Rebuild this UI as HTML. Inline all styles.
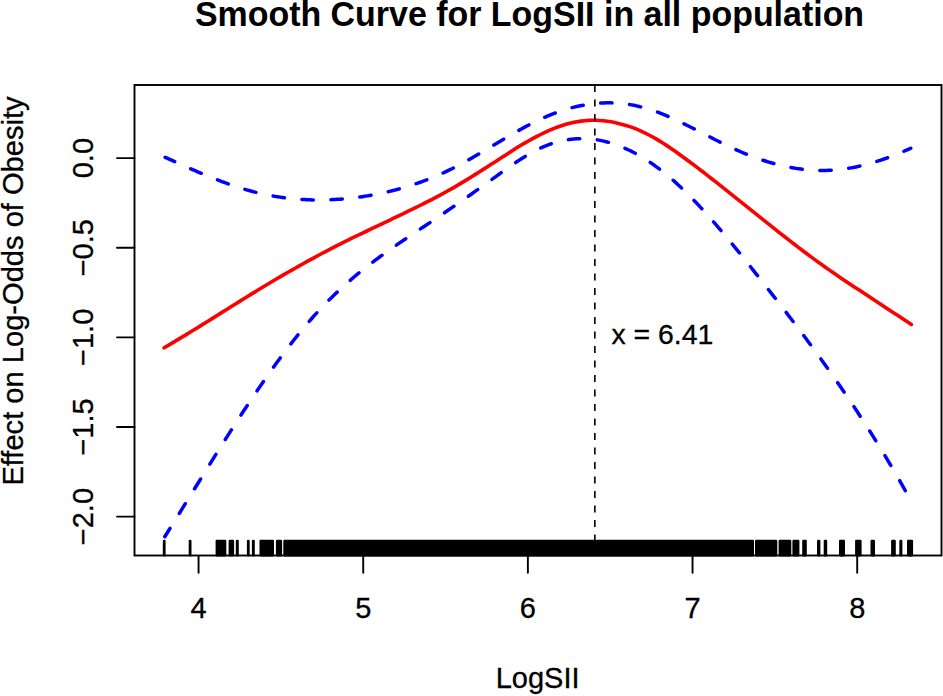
<!DOCTYPE html><html><head><meta charset="utf-8"><style>html,body{margin:0;padding:0;background:#fff;width:943px;height:696px;overflow:hidden}svg{display:block}text{font-family:"Liberation Sans",sans-serif;fill:#000}text.r{stroke:#000;stroke-width:0.3}</style></head><body><svg width="943" height="696" viewBox="0 0 943 696"><rect width="943" height="696" fill="#fff"/><text x="194.9" y="25.6" font-size="34.9" font-weight="bold" textLength="669.2" lengthAdjust="spacingAndGlyphs">Smooth Curve for LogSII in all population</text><path d="M164.10,347.74 L167.86,345.57 L171.61,343.37 L175.37,341.15 L179.12,338.91 L182.88,336.65 L186.63,334.37 L190.39,332.08 L194.14,329.77 L197.90,327.46 L201.65,325.13 L205.41,322.79 L209.16,320.45 L212.92,318.10 L216.67,315.75 L220.43,313.39 L224.18,311.04 L227.94,308.68 L231.69,306.33 L235.45,303.98 L239.21,301.64 L242.96,299.30 L246.72,296.97 L250.47,294.65 L254.23,292.35 L257.98,290.06 L261.74,287.78 L265.49,285.51 L269.25,283.27 L273.00,281.03 L276.76,278.81 L280.51,276.61 L284.27,274.43 L288.02,272.26 L291.78,270.10 L295.53,267.97 L299.29,265.85 L303.05,263.75 L306.80,261.66 L310.56,259.60 L314.31,257.56 L318.07,255.53 L321.82,253.52 L325.58,251.54 L329.33,249.57 L333.09,247.63 L336.84,245.70 L340.60,243.80 L344.35,241.92 L348.11,240.06 L351.86,238.21 L355.62,236.39 L359.37,234.58 L363.13,232.78 L366.88,231.00 L370.64,229.21 L374.40,227.43 L378.15,225.65 L381.91,223.87 L385.66,222.09 L389.42,220.29 L393.17,218.49 L396.93,216.67 L400.68,214.84 L404.44,213.02 L408.19,211.22 L411.95,209.41 L415.70,207.59 L419.46,205.75 L423.21,203.87 L426.97,201.98 L430.72,200.06 L434.48,198.11 L438.24,196.13 L441.99,194.10 L445.75,192.04 L449.50,189.94 L453.26,187.81 L457.01,185.63 L460.77,183.41 L464.52,181.15 L468.28,178.85 L472.03,176.51 L475.79,174.14 L479.54,171.75 L483.30,169.36 L487.05,166.97 L490.81,164.58 L494.56,162.18 L498.32,159.78 L502.07,157.36 L505.83,154.91 L509.59,152.43 L513.34,149.99 L517.10,147.60 L520.85,145.31 L524.61,143.10 L528.36,140.97 L532.12,138.91 L535.87,136.92 L539.63,135.01 L543.38,133.17 L547.14,131.40 L550.89,129.72 L554.65,128.16 L558.40,126.73 L562.16,125.44 L565.91,124.28 L569.67,123.26 L573.43,122.38 L577.18,121.66 L580.94,121.10 L584.69,120.69 L588.45,120.42 L592.20,120.28 L595.96,120.29 L599.71,120.45 L603.47,120.75 L607.22,121.19 L610.98,121.78 L614.73,122.53 L618.49,123.42 L622.24,124.43 L626.00,125.47 L629.75,126.61 L633.51,127.92 L637.26,129.44 L641.02,131.09 L644.78,132.86 L648.53,134.76 L652.29,136.77 L656.04,138.90 L659.80,141.14 L663.55,143.46 L667.31,145.88 L671.06,148.40 L674.82,151.02 L678.57,153.71 L682.33,156.45 L686.08,159.22 L689.84,162.00 L693.59,164.79 L697.35,167.63 L701.10,170.50 L704.86,173.39 L708.62,176.31 L712.37,179.25 L716.13,182.20 L719.88,185.17 L723.64,188.14 L727.39,191.13 L731.15,194.12 L734.90,197.13 L738.66,200.13 L742.41,203.14 L746.17,206.15 L749.92,209.17 L753.68,212.18 L757.43,215.18 L761.19,218.19 L764.94,221.18 L768.70,224.17 L772.45,227.15 L776.21,230.12 L779.97,233.08 L783.72,236.02 L787.48,238.95 L791.23,241.86 L794.99,244.75 L798.74,247.62 L802.50,250.46 L806.25,253.29 L810.01,256.08 L813.76,258.86 L817.52,261.60 L821.27,264.31 L825.03,266.99 L828.78,269.64 L832.54,272.26 L836.29,274.84 L840.05,277.40 L843.81,279.94 L847.56,282.45 L851.32,284.94 L855.07,287.41 L858.83,289.86 L862.58,292.31 L866.34,294.77 L870.09,297.25 L873.85,299.73 L877.60,302.22 L881.36,304.71 L885.11,307.20 L888.87,309.68 L892.62,312.15 L896.38,314.62 L900.13,317.10 L903.89,319.58 L907.64,322.08 L911.40,324.59" fill="none" stroke="#f00" stroke-width="3.6" stroke-linecap="round" stroke-linejoin="round"/><path d="M165.20,157.29 L167.69,158.43 L170.19,159.57 L172.68,160.70 L175.17,161.84 L177.67,162.97 L180.16,164.09 L182.66,165.21 L185.15,166.32 L187.64,167.43 L190.14,168.53 L192.63,169.62 L195.12,170.70 L197.62,171.78 L200.11,172.84 L202.60,173.89 L205.10,174.93 L207.59,175.96 L210.09,176.97 L212.58,177.97 L215.07,178.96 L217.57,179.93 L220.06,180.88 L222.55,181.81 L225.05,182.73 L227.54,183.63 L230.03,184.52 L232.53,185.38 L235.02,186.22 L237.52,187.04 L240.01,187.83 L242.50,188.61 L245.00,189.36 L247.49,190.09 L249.98,190.79 L252.48,191.47 L254.97,192.12 L257.46,192.74 L259.96,193.34 L262.45,193.91 L264.95,194.45 L267.44,194.96 L269.93,195.45 L272.43,195.91 L274.92,196.35 L277.41,196.76 L279.91,197.14 L282.40,197.50 L284.89,197.84 L287.39,198.15 L289.88,198.43 L292.38,198.69 L294.87,198.92 L297.36,199.13 L299.86,199.32 L302.35,199.48 L304.84,199.62 L307.34,199.73 L309.83,199.82 L312.33,199.89 L314.82,199.93 L317.31,199.95 L319.81,199.95 L322.30,199.93 L324.79,199.88 L327.29,199.82 L329.78,199.73 L332.27,199.61 L334.77,199.48 L337.26,199.33 L339.76,199.15 L342.25,198.96 L344.74,198.74 L347.24,198.50 L349.73,198.24 L352.22,197.97 L354.72,197.67 L357.21,197.35 L359.70,197.01 L362.20,196.66 L364.69,196.28 L367.19,195.88 L369.68,195.47 L372.17,195.03 L374.67,194.57 L377.16,194.10 L379.65,193.60 L382.15,193.08 L384.64,192.53 L387.13,191.97 L389.63,191.38 L392.12,190.77 L394.62,190.14 L397.11,189.49 L399.60,188.81 L402.10,188.11 L404.59,187.38 L407.08,186.63 L409.58,185.86 L412.07,185.06 L414.56,184.24 L417.06,183.39 L419.55,182.51 L422.05,181.61 L424.54,180.69 L427.03,179.74 L429.53,178.76 L432.02,177.75 L434.51,176.72 L437.01,175.66 L439.50,174.58 L441.99,173.46 L444.49,172.32 L446.98,171.15 L449.48,169.95 L451.97,168.73 L454.46,167.47 L456.96,166.18 L459.45,164.87 L461.94,163.53 L464.44,162.17 L466.93,160.79 L469.42,159.39 L471.92,157.97 L474.41,156.53 L476.91,155.09 L479.40,153.62 L481.89,152.15 L484.39,150.67 L486.88,149.19 L489.37,147.70 L491.87,146.20 L494.36,144.71 L496.85,143.22 L499.35,141.72 L501.84,140.24 L504.34,138.76 L506.83,137.29 L509.32,135.83 L511.82,134.38 L514.31,132.94 L516.80,131.53 L519.30,130.12 L521.79,128.74 L524.28,127.38 L526.78,126.05 L529.27,124.73 L531.77,123.45 L534.26,122.19 L536.75,120.97 L539.25,119.78 L541.74,118.62 L544.23,117.50 L546.73,116.41 L549.22,115.37 L551.72,114.36 L554.21,113.40 L556.70,112.47 L559.20,111.59 L561.69,110.74 L564.18,109.94 L566.68,109.18 L569.17,108.45 L571.66,107.78 L574.16,107.14 L576.65,106.54 L579.15,105.99 L581.64,105.48 L584.13,105.02 L586.63,104.60 L589.12,104.22 L591.61,103.89 L594.11,103.60 L596.60,103.36 L599.09,103.16 L601.59,103.01 L604.08,102.90 L606.58,102.84 L609.07,102.83 L611.56,102.87 L614.06,102.95 L616.55,103.08 L619.04,103.25 L621.54,103.48 L624.03,103.75 L626.52,104.07 L629.02,104.45 L631.51,104.87 L634.01,105.34 L636.50,105.86 L638.99,106.43 L641.49,107.05 L643.98,107.72 L646.47,108.45 L648.97,109.21 L651.46,110.03 L653.95,110.88 L656.45,111.78 L658.94,112.71 L661.44,113.68 L663.93,114.69 L666.42,115.73 L668.92,116.80 L671.41,117.89 L673.90,119.02 L676.40,120.17 L678.89,121.34 L681.38,122.53 L683.88,123.74 L686.37,124.96 L688.87,126.20 L691.36,127.46 L693.85,128.72 L696.35,129.99 L698.84,131.27 L701.33,132.55 L703.83,133.84 L706.32,135.12 L708.81,136.40 L711.31,137.68 L713.80,138.96 L716.30,140.22 L718.79,141.48 L721.28,142.72 L723.78,143.95 L726.27,145.17 L728.76,146.36 L731.26,147.54 L733.75,148.70 L736.24,149.83 L738.74,150.93 L741.23,152.01 L743.73,153.07 L746.22,154.09 L748.71,155.09 L751.21,156.06 L753.70,157.01 L756.19,157.92 L758.69,158.81 L761.18,159.66 L763.67,160.49 L766.17,161.29 L768.66,162.06 L771.16,162.79 L773.65,163.50 L776.14,164.17 L778.64,164.81 L781.13,165.42 L783.62,166.00 L786.12,166.54 L788.61,167.05 L791.11,167.53 L793.60,167.97 L796.09,168.38 L798.59,168.75 L801.08,169.09 L803.57,169.39 L806.07,169.66 L808.56,169.89 L811.05,170.08 L813.55,170.23 L816.04,170.35 L818.54,170.43 L821.03,170.47 L823.52,170.47 L826.02,170.43 L828.51,170.35 L831.00,170.23 L833.50,170.08 L835.99,169.88 L838.48,169.64 L840.98,169.36 L843.47,169.05 L845.97,168.69 L848.46,168.30 L850.95,167.88 L853.45,167.41 L855.94,166.91 L858.43,166.38 L860.93,165.81 L863.42,165.21 L865.91,164.58 L868.41,163.92 L870.90,163.22 L873.40,162.49 L875.89,161.73 L878.38,160.94 L880.88,160.12 L883.37,159.28 L885.86,158.40 L888.36,157.50 L890.85,156.57 L893.34,155.61 L895.84,154.63 L898.33,153.62 L900.83,152.59 L903.32,151.54 L905.81,150.46 L908.31,149.36 L910.80,148.23" fill="none" stroke="#00f" stroke-width="3.5" stroke-linecap="round" stroke-linejoin="round" stroke-dasharray="11.40 17.60" stroke-dashoffset="0.98"/><path d="M164.80,536.74 L167.29,532.76 L169.79,528.77 L172.28,524.76 L174.78,520.75 L177.27,516.74 L179.76,512.71 L182.26,508.69 L184.75,504.66 L187.25,500.62 L189.74,496.59 L192.23,492.55 L194.73,488.52 L197.22,484.49 L199.72,480.46 L202.21,476.43 L204.70,472.41 L207.20,468.39 L209.69,464.38 L212.19,460.38 L214.68,456.38 L217.17,452.40 L219.67,448.42 L222.16,444.46 L224.66,440.51 L227.15,436.58 L229.64,432.66 L232.14,428.75 L234.63,424.86 L237.13,420.99 L239.62,417.14 L242.11,413.31 L244.61,409.50 L247.10,405.71 L249.60,401.95 L252.09,398.20 L254.58,394.49 L257.08,390.80 L259.57,387.13 L262.07,383.50 L264.56,379.89 L267.05,376.31 L269.55,372.77 L272.04,369.26 L274.54,365.78 L277.03,362.33 L279.52,358.92 L282.02,355.55 L284.51,352.21 L287.01,348.91 L289.50,345.65 L291.99,342.43 L294.49,339.25 L296.98,336.12 L299.47,333.03 L301.97,329.98 L304.46,326.98 L306.96,324.02 L309.45,321.11 L311.94,318.25 L314.44,315.44 L316.93,312.68 L319.43,309.97 L321.92,307.32 L324.41,304.71 L326.91,302.15 L329.40,299.63 L331.90,297.17 L334.39,294.74 L336.88,292.36 L339.38,290.02 L341.87,287.72 L344.37,285.46 L346.86,283.24 L349.35,281.06 L351.85,278.91 L354.34,276.79 L356.84,274.71 L359.33,272.66 L361.82,270.64 L364.32,268.65 L366.81,266.69 L369.31,264.75 L371.80,262.84 L374.29,260.96 L376.79,259.10 L379.28,257.26 L381.78,255.44 L384.27,253.63 L386.76,251.85 L389.26,250.09 L391.75,248.33 L394.25,246.60 L396.74,244.87 L399.23,243.16 L401.73,241.46 L404.22,239.77 L406.72,238.09 L409.21,236.41 L411.70,234.74 L414.20,233.07 L416.69,231.41 L419.19,229.74 L421.68,228.08 L424.17,226.42 L426.67,224.75 L429.16,223.09 L431.66,221.41 L434.15,219.73 L436.64,218.05 L439.14,216.36 L441.63,214.67 L444.13,212.97 L446.62,211.27 L449.11,209.56 L451.61,207.85 L454.10,206.13 L456.60,204.41 L459.09,202.68 L461.58,200.94 L464.08,199.20 L466.57,197.46 L469.07,195.70 L471.56,193.95 L474.05,192.19 L476.55,190.42 L479.04,188.65 L481.54,186.87 L484.03,185.09 L486.52,183.30 L489.02,181.50 L491.51,179.70 L494.01,177.89 L496.50,176.09 L498.99,174.28 L501.49,172.48 L503.98,170.69 L506.48,168.91 L508.97,167.15 L511.46,165.42 L513.96,163.70 L516.45,162.02 L518.95,160.37 L521.44,158.76 L523.93,157.19 L526.43,155.67 L528.92,154.19 L531.42,152.77 L533.91,151.40 L536.40,150.10 L538.90,148.86 L541.39,147.69 L543.88,146.59 L546.38,145.57 L548.87,144.62 L551.37,143.74 L553.86,142.93 L556.35,142.19 L558.85,141.52 L561.34,140.92 L563.84,140.39 L566.33,139.94 L568.82,139.55 L571.32,139.23 L573.81,138.97 L576.31,138.79 L578.80,138.67 L581.29,138.62 L583.79,138.64 L586.28,138.72 L588.78,138.87 L591.27,139.09 L593.76,139.37 L596.26,139.72 L598.75,140.13 L601.25,140.60 L603.74,141.14 L606.23,141.74 L608.73,142.41 L611.22,143.14 L613.72,143.93 L616.21,144.78 L618.70,145.70 L621.20,146.67 L623.69,147.71 L626.19,148.81 L628.68,149.97 L631.17,151.19 L633.67,152.46 L636.16,153.80 L638.66,155.19 L641.15,156.65 L643.64,158.16 L646.14,159.73 L648.63,161.36 L651.13,163.04 L653.62,164.78 L656.11,166.57 L658.61,168.43 L661.10,170.33 L663.60,172.30 L666.09,174.31 L668.58,176.39 L671.08,178.51 L673.57,180.69 L676.07,182.92 L678.56,185.20 L681.05,187.54 L683.55,189.92 L686.04,192.35 L688.54,194.82 L691.03,197.34 L693.52,199.90 L696.02,202.50 L698.51,205.14 L701.01,207.82 L703.50,210.54 L705.99,213.29 L708.49,216.08 L710.98,218.90 L713.48,221.75 L715.97,224.63 L718.46,227.54 L720.96,230.47 L723.45,233.43 L725.95,236.42 L728.44,239.42 L730.93,242.45 L733.43,245.50 L735.92,248.57 L738.42,251.65 L740.91,254.74 L743.40,257.86 L745.90,260.98 L748.39,264.11 L750.89,267.26 L753.38,270.41 L755.87,273.57 L758.37,276.73 L760.86,279.90 L763.36,283.07 L765.85,286.25 L768.34,289.44 L770.84,292.63 L773.33,295.82 L775.83,299.03 L778.32,302.24 L780.81,305.47 L783.31,308.70 L785.80,311.94 L788.29,315.19 L790.79,318.46 L793.28,321.73 L795.78,325.02 L798.27,328.32 L800.76,331.64 L803.26,334.97 L805.75,338.31 L808.25,341.67 L810.74,345.05 L813.23,348.44 L815.73,351.85 L818.22,355.28 L820.72,358.72 L823.21,362.18 L825.70,365.67 L828.20,369.17 L830.69,372.70 L833.19,376.24 L835.68,379.81 L838.17,383.40 L840.67,387.01 L843.16,390.65 L845.66,394.31 L848.15,398.00 L850.64,401.71 L853.14,405.44 L855.63,409.21 L858.13,413.00 L860.62,416.82 L863.11,420.66 L865.61,424.54 L868.10,428.45 L870.60,432.38 L873.09,436.35 L875.58,440.35 L878.08,444.38 L880.57,448.44 L883.07,452.53 L885.56,456.66 L888.05,460.83 L890.55,465.02 L893.04,469.26 L895.54,473.53 L898.03,477.83 L900.52,482.18 L903.02,486.56 L905.51,490.98 L908.01,495.44 L910.50,499.93" fill="none" stroke="#00f" stroke-width="3.5" stroke-linecap="round" stroke-linejoin="round" stroke-dasharray="11.40 17.62" stroke-dashoffset="1.58"/><line x1="594.85" y1="85" x2="594.85" y2="555" stroke="#000" stroke-width="1.6" stroke-dasharray="7 7.5"/><text class="r" x="611.5" y="344" font-size="28.4">x = 6.41</text><rect x="162.80" y="539.7" width="2.80" height="16.8" rx="1.2" fill="#000"/><rect x="188.70" y="539.7" width="2.80" height="16.8" rx="1.2" fill="#000"/><rect x="215.60" y="539.7" width="10.70" height="16.8" rx="1.2" fill="#000"/><rect x="228.60" y="539.7" width="5.50" height="16.8" rx="1.2" fill="#000"/><rect x="235.80" y="539.7" width="3.00" height="16.8" rx="1.2" fill="#000"/><rect x="246.90" y="539.7" width="2.80" height="16.8" rx="1.2" fill="#000"/><rect x="251.90" y="539.7" width="2.90" height="16.8" rx="1.2" fill="#000"/><rect x="259.50" y="539.7" width="14.50" height="16.8" rx="1.2" fill="#000"/><rect x="275.90" y="539.7" width="6.20" height="16.8" rx="1.2" fill="#000"/><rect x="283.30" y="539.7" width="470.70" height="16.8" rx="1.2" fill="#000"/><rect x="755.00" y="539.7" width="22.30" height="16.8" rx="1.2" fill="#000"/><rect x="778.60" y="539.7" width="12.70" height="16.8" rx="1.2" fill="#000"/><rect x="792.40" y="539.7" width="7.00" height="16.8" rx="1.2" fill="#000"/><rect x="802.20" y="539.7" width="4.60" height="16.8" rx="1.2" fill="#000"/><rect x="817.00" y="539.7" width="3.40" height="16.8" rx="1.2" fill="#000"/><rect x="823.70" y="539.7" width="3.50" height="16.8" rx="1.2" fill="#000"/><rect x="839.00" y="539.7" width="6.00" height="16.8" rx="1.2" fill="#000"/><rect x="855.10" y="539.7" width="6.50" height="16.8" rx="1.2" fill="#000"/><rect x="870.50" y="539.7" width="4.50" height="16.8" rx="1.2" fill="#000"/><rect x="891.10" y="539.7" width="4.70" height="16.8" rx="1.2" fill="#000"/><rect x="899.30" y="539.7" width="3.10" height="16.8" rx="1.2" fill="#000"/><rect x="907.00" y="539.7" width="6.10" height="16.8" rx="1.2" fill="#000"/><rect x="134.5" y="85" width="807.0" height="470.5" fill="none" stroke="#000" stroke-width="1.9"/><line x1="117.0" y1="158.10" x2="134.5" y2="158.10" stroke="#000" stroke-width="1.9" stroke-linecap="round"/><text class="r" transform="translate(92.8,158.10) rotate(-90)" text-anchor="middle" font-size="29">0.0</text><line x1="117.0" y1="247.72" x2="134.5" y2="247.72" stroke="#000" stroke-width="1.9" stroke-linecap="round"/><text class="r" transform="translate(92.8,247.72) rotate(-90)" text-anchor="middle" font-size="29">−0.5</text><line x1="117.0" y1="337.35" x2="134.5" y2="337.35" stroke="#000" stroke-width="1.9" stroke-linecap="round"/><text class="r" transform="translate(92.8,337.35) rotate(-90)" text-anchor="middle" font-size="29">−1.0</text><line x1="117.0" y1="426.98" x2="134.5" y2="426.98" stroke="#000" stroke-width="1.9" stroke-linecap="round"/><text class="r" transform="translate(92.8,426.98) rotate(-90)" text-anchor="middle" font-size="29">−1.5</text><line x1="117.0" y1="516.60" x2="134.5" y2="516.60" stroke="#000" stroke-width="1.9" stroke-linecap="round"/><text class="r" transform="translate(92.8,516.60) rotate(-90)" text-anchor="middle" font-size="29">−2.0</text><line x1="198.56" y1="556.4" x2="198.56" y2="572.7" stroke="#000" stroke-width="1.9" stroke-linecap="round"/><text class="r" x="198.56" y="618.2" text-anchor="middle" font-size="29">4</text><line x1="363.22" y1="556.4" x2="363.22" y2="572.7" stroke="#000" stroke-width="1.9" stroke-linecap="round"/><text class="r" x="363.22" y="618.2" text-anchor="middle" font-size="29">5</text><line x1="527.88" y1="556.4" x2="527.88" y2="572.7" stroke="#000" stroke-width="1.9" stroke-linecap="round"/><text class="r" x="527.88" y="618.2" text-anchor="middle" font-size="29">6</text><line x1="692.54" y1="556.4" x2="692.54" y2="572.7" stroke="#000" stroke-width="1.9" stroke-linecap="round"/><text class="r" x="692.54" y="618.2" text-anchor="middle" font-size="29">7</text><line x1="857.20" y1="556.4" x2="857.20" y2="572.7" stroke="#000" stroke-width="1.9" stroke-linecap="round"/><text class="r" x="857.20" y="618.2" text-anchor="middle" font-size="29">8</text><text class="r" x="537.6" y="687.9" text-anchor="middle" font-size="29">LogSII</text><text class="r" transform="translate(23,291.0) rotate(-90)" text-anchor="middle" font-size="29.1">Effect on Log-Odds of Obesity</text></svg></body></html>
